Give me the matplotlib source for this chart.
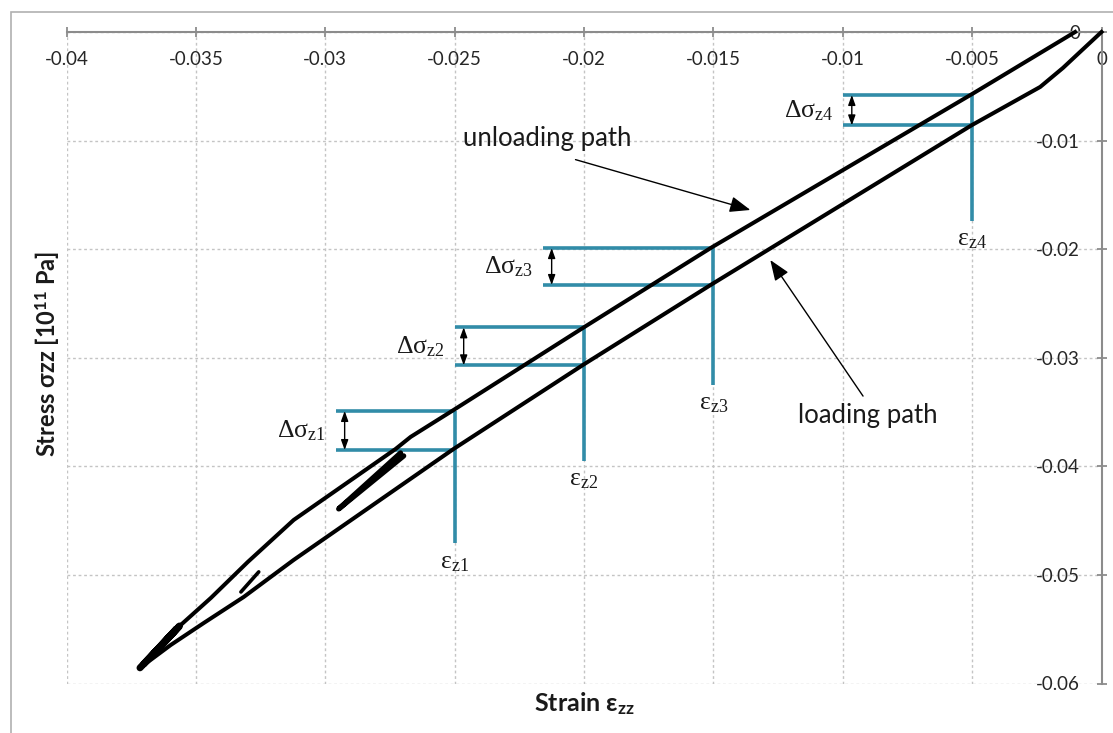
import matplotlib.pyplot as plt
from matplotlib.patches import Rectangle

plt.rcParams['font.family'] = ['Lato', 'DejaVu Sans']
plt.rcParams['mathtext.fontset'] = 'custom'
plt.rcParams['mathtext.rm'] = 'Liberation Serif'
plt.rcParams['mathtext.it'] = 'Liberation Serif:italic'
plt.rcParams['mathtext.sf'] = 'Lato:bold'
plt.rcParams['mathtext.bf'] = 'Lato:bold'

# loading path, from the origin down to the turning point
load_strain = [0.0, -0.00083, -0.00149, -0.00237, -0.00500, -0.01504, -0.01998,
               -0.02504, -0.03122, -0.03315, -0.03469, -0.03597, -0.03701]
load_stress = [0.0, -0.00184, -0.00331, -0.00506, -0.00856, -0.02320, -0.03057,
               -0.03840, -0.04862, -0.05203, -0.05442, -0.05645, -0.05829]

# unloading path, back from the turning point
unload_strain = [-0.00102, -0.00500, -0.01504, -0.01998, -0.02504, -0.02670,
                 -0.02728, -0.03122, -0.03299, -0.03442, -0.03558, -0.03709]
unload_stress = [0.0, -0.00571, -0.01980, -0.02716, -0.03481, -0.03729,
                 -0.03840, -0.04494, -0.04880, -0.05212, -0.05460, -0.05838]

# small reload cycles
tip_strain = [-0.03716, -0.03563, -0.03674, -0.03575, -0.03701]
tip_stress = [-0.05856, -0.05470, -0.05755, -0.05497, -0.05820]
loop1_strain = [-0.02709, -0.02948, -0.02929, -0.02697]
loop1_stress = [-0.03877, -0.04392, -0.04355, -0.03904]
loop2_strain = [-0.03257, -0.03326]
loop2_stress = [-0.04972, -0.05157]

# stress drop markers
eps_marks = [-0.025, -0.020, -0.015, -0.005]
sig_unload = [-0.0349, -0.0272, -0.0199, -0.0058]
sig_load = [-0.0385, -0.0307, -0.0233, -0.0086]
bracket_left = [-0.0296, -0.0250, -0.0216, -0.0100]
marker_bottom = [-0.0471, -0.0395, -0.0325, -0.0174]
marker_ids = ['1', '2', '3', '4']

x_ticks = [-0.04, -0.035, -0.03, -0.025, -0.02, -0.015, -0.01, -0.005, 0.0]
x_tick_labels = ['-0.04', '-0.035', '-0.03', '-0.025', '-0.02', '-0.015', '-0.01', '-0.005', '0']
y_ticks = [-0.06, -0.05, -0.04, -0.03, -0.02, -0.01, 0.0]
y_tick_labels = ['-0.06', '-0.05', '-0.04', '-0.03', '-0.02', '-0.01', '0']

blue = '#318ca8'
axis_grey = '#8c8c8c'
ink = '#1a1a1a'

fig = plt.figure(figsize=(11.13, 7.33), dpi=100)
ax = fig.add_axes([66.5 / 1113, 1 - 683.5 / 733, 1035 / 1113, 651.5 / 733])

ax.set_xlim(-0.04, 0)
ax.set_ylim(-0.06, 0)
ax.set_xticks(x_ticks)
ax.set_xticklabels(x_tick_labels)
ax.set_yticks(y_ticks)
ax.set_yticklabels(y_tick_labels)

# axes cross at the origin (top right corner)
ax.spines['bottom'].set_position(('data', 0))
ax.spines['left'].set_position(('data', 0))
ax.spines['top'].set_visible(False)
ax.spines['right'].set_visible(False)
for side in ['bottom', 'left']:
    ax.spines[side].set_color(axis_grey)
    ax.spines[side].set_linewidth(1.5)
    ax.spines[side].set_zorder(1.5)

ax.tick_params(direction='inout', length=7, width=1.3, color=axis_grey,
               labelsize=13.5, labelcolor='#262626')
ax.tick_params(axis='x', pad=10)
ax.tick_params(axis='y', pad=12)

ax.set_axisbelow(True)
ax.grid(True, color='#c4c4c4', linestyle=(0, (2, 2)), linewidth=1.0)

# blue marker lines
for i in range(len(eps_marks)):
    ax.plot([bracket_left[i], eps_marks[i]], [sig_unload[i], sig_unload[i]],
            color=blue, lw=2.6, solid_capstyle='butt', zorder=2)
    ax.plot([bracket_left[i], eps_marks[i]], [sig_load[i], sig_load[i]],
            color=blue, lw=2.6, solid_capstyle='butt', zorder=2)
    ax.plot([eps_marks[i], eps_marks[i]], [sig_unload[i], marker_bottom[i]],
            color=blue, lw=2.6, solid_capstyle='butt', zorder=2)

    xa = bracket_left[i] + 0.00035
    ax.annotate('', xy=(xa, sig_load[i]), xytext=(xa, sig_unload[i]),
                arrowprops=dict(arrowstyle='<|-|>,head_length=0.5,head_width=0.18',
                                color='black', lw=1.0, shrinkA=0, shrinkB=0,
                                mutation_scale=12), zorder=4)
    ax.annotate(r'$\mathrm{\Delta\sigma_{z' + marker_ids[i] + '}}$',
                xy=(bracket_left[i], (sig_unload[i] + sig_load[i]) / 2),
                xytext=(-7, 0), textcoords='offset points',
                ha='right', va='center', fontsize=18.5, color=ink)
    ax.annotate(r'$\mathrm{\varepsilon_{z' + marker_ids[i] + '}}$',
                xy=(eps_marks[i], marker_bottom[i]),
                xytext=(0, -4), textcoords='offset points',
                ha='center', va='top', fontsize=18.5, color=ink)

# stress-strain curves
ax.plot(load_strain, load_stress, color='black', lw=2.9, zorder=3, clip_on=False,
        solid_joinstyle='round')
ax.plot(unload_strain, unload_stress, color='black', lw=2.9, zorder=3, clip_on=False,
        solid_joinstyle='round')
ax.plot(tip_strain, tip_stress, color='black', lw=5.0, zorder=3,
        solid_capstyle='round', solid_joinstyle='round')
ax.plot(loop1_strain, loop1_stress, color='black', lw=3.8, zorder=3,
        solid_capstyle='round', solid_joinstyle='round')
ax.plot(loop2_strain, loop2_stress, color='black', lw=2.6, zorder=3,
        solid_capstyle='round')

# path labels
ax.annotate('unloading path', xy=(-0.01357, -0.01639), xytext=(-0.02468, -0.00985),
            fontsize=18.5, ha='left', va='center', color=ink,
            arrowprops=dict(arrowstyle='-|>,head_length=0.9,head_width=0.35',
                            color='black', lw=1.0, shrinkA=14, shrinkB=0,
                            mutation_scale=14,
                            relpos=(0.5, 0.0)))
ax.annotate('loading path', xy=(-0.0128, -0.0210), xytext=(-0.01172, -0.03536),
            fontsize=18.5, ha='left', va='center', color=ink,
            arrowprops=dict(arrowstyle='-|>,head_length=0.9,head_width=0.35',
                            color='black', lw=1.0, shrinkA=4, shrinkB=0,
                            mutation_scale=14,
                            relpos=(0.5, 1.0)))

fig.text(584 / 1113, 1 - 704 / 733, r'Strain $\mathsf{\varepsilon_{zz}}$',
         ha='center', va='center', fontsize=18, fontweight='bold', color=ink)
fig.text(48 / 1113, 1 - 354 / 733, r'Stress $\mathsf{\sigma zz}$ [10$^{\mathsf{11}}$ Pa]',
         ha='center', va='center', rotation=90, fontsize=17, fontweight='bold',
         color=ink)

# chart frame
fig.add_artist(Rectangle((11 / 1113, -0.1), 1.2, (733 - 12) / 733 + 0.1,
                         transform=fig.transFigure, fill=False,
                         edgecolor='#b0b0b0', lw=1.2))

fig.savefig('out.png', dpi=100)
